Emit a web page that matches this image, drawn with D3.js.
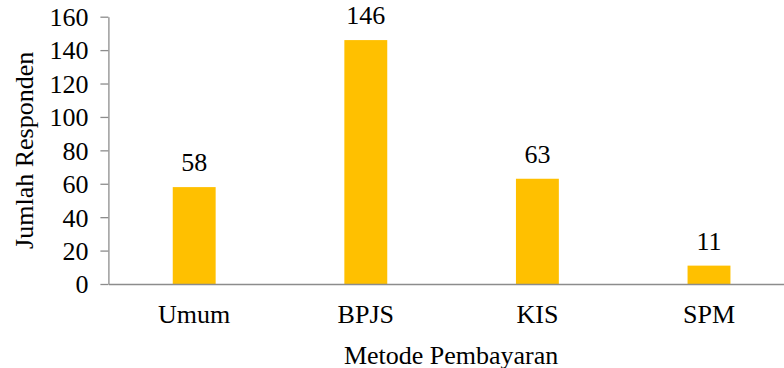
<!DOCTYPE html>
<html>
<head>
<meta charset="utf-8">
<script src="https://cdn.jsdelivr.net/npm/d3@7"></script>
<style>
  html, body { margin: 0; padding: 0; background: #fff; }
  svg { display: block; }
  text { font-family: "Liberation Serif", "Times New Roman", serif; fill: #000; }
</style>
</head>
<body>
<svg id="chart" width="784" height="368"></svg>
<script>
// Jumlah responden per metode pembayaran
const categories = ["Umum", "BPJS", "KIS", "SPM"];
const values = [58, 146, 63, 11];
const yTicks = [0, 20, 40, 60, 80, 100, 120, 140, 160];

const svg = d3.select("#chart");
const margin = { left: 108.4, top: 16.7, bottom: 284 };
const plotRight = 794.8;
const fontSize = 26;
const axisColor = "#8c8c8c";
const barColor = "#FFC000";

const x = d3.scaleBand()
  .domain(categories)
  .range([margin.left, plotRight])
  .paddingInner(0.75)
  .paddingOuter(0.375);

const y = d3.scaleLinear()
  .domain([0, 160])
  .range([margin.bottom, margin.top]);

// Bars
svg.append("g")
  .selectAll("rect")
  .data(values)
  .join("rect")
  .attr("x", (d, i) => x(categories[i]))
  .attr("width", x.bandwidth())
  .attr("y", d => y(d))
  .attr("height", d => y(0) - y(d))
  .attr("fill", barColor);

// Value labels
svg.append("g")
  .selectAll("text")
  .data(values)
  .join("text")
  .attr("x", (d, i) => x(categories[i]) + x.bandwidth() / 2)
  .attr("y", d => y(d) - 16)
  .attr("text-anchor", "middle")
  .style("font-size", fontSize + "px")
  .text(d => d);

// Y axis
const yAxis = svg.append("g")
  .attr("transform", `translate(${margin.left},0)`)
  .call(d3.axisLeft(y).tickValues(yTicks).tickSize(8).tickSizeOuter(0).tickPadding(12));
yAxis.select(".domain").attr("stroke", axisColor).attr("stroke-width", 1.3);
yAxis.selectAll(".tick line").attr("stroke", axisColor).attr("stroke-width", 1.3);
yAxis.selectAll(".tick text")
  .style("font-size", fontSize + "px")
  .style("font-family", '"Liberation Serif", "Times New Roman", serif')
  .attr("fill", "#000")
  .attr("dy", "0.34em");

// X axis
const xAxis = svg.append("g")
  .attr("transform", `translate(0,${margin.bottom})`)
  .call(d3.axisBottom(x).tickSize(0).tickSizeOuter(0).tickPadding(14));
xAxis.select(".domain").attr("stroke", axisColor).attr("stroke-width", 1.3);
xAxis.selectAll(".tick text")
  .style("font-size", fontSize + "px")
  .style("font-family", '"Liberation Serif", "Times New Roman", serif')
  .attr("fill", "#000")
  .attr("dy", "0")
  .attr("y", 39);

// Axis titles
svg.append("text")
  .attr("x", (margin.left + plotRight) / 2 - 0.5)
  .attr("y", 363.5)
  .attr("text-anchor", "middle")
  .style("font-size", fontSize + "px")
  .text("Metode Pembayaran");

svg.append("text")
  .attr("transform", `translate(33,${(margin.top + margin.bottom) / 2}) rotate(-90)`)
  .attr("text-anchor", "middle")
  .style("font-size", fontSize + "px")
  .text("Jumlah Responden");
</script>
</body>
</html>
